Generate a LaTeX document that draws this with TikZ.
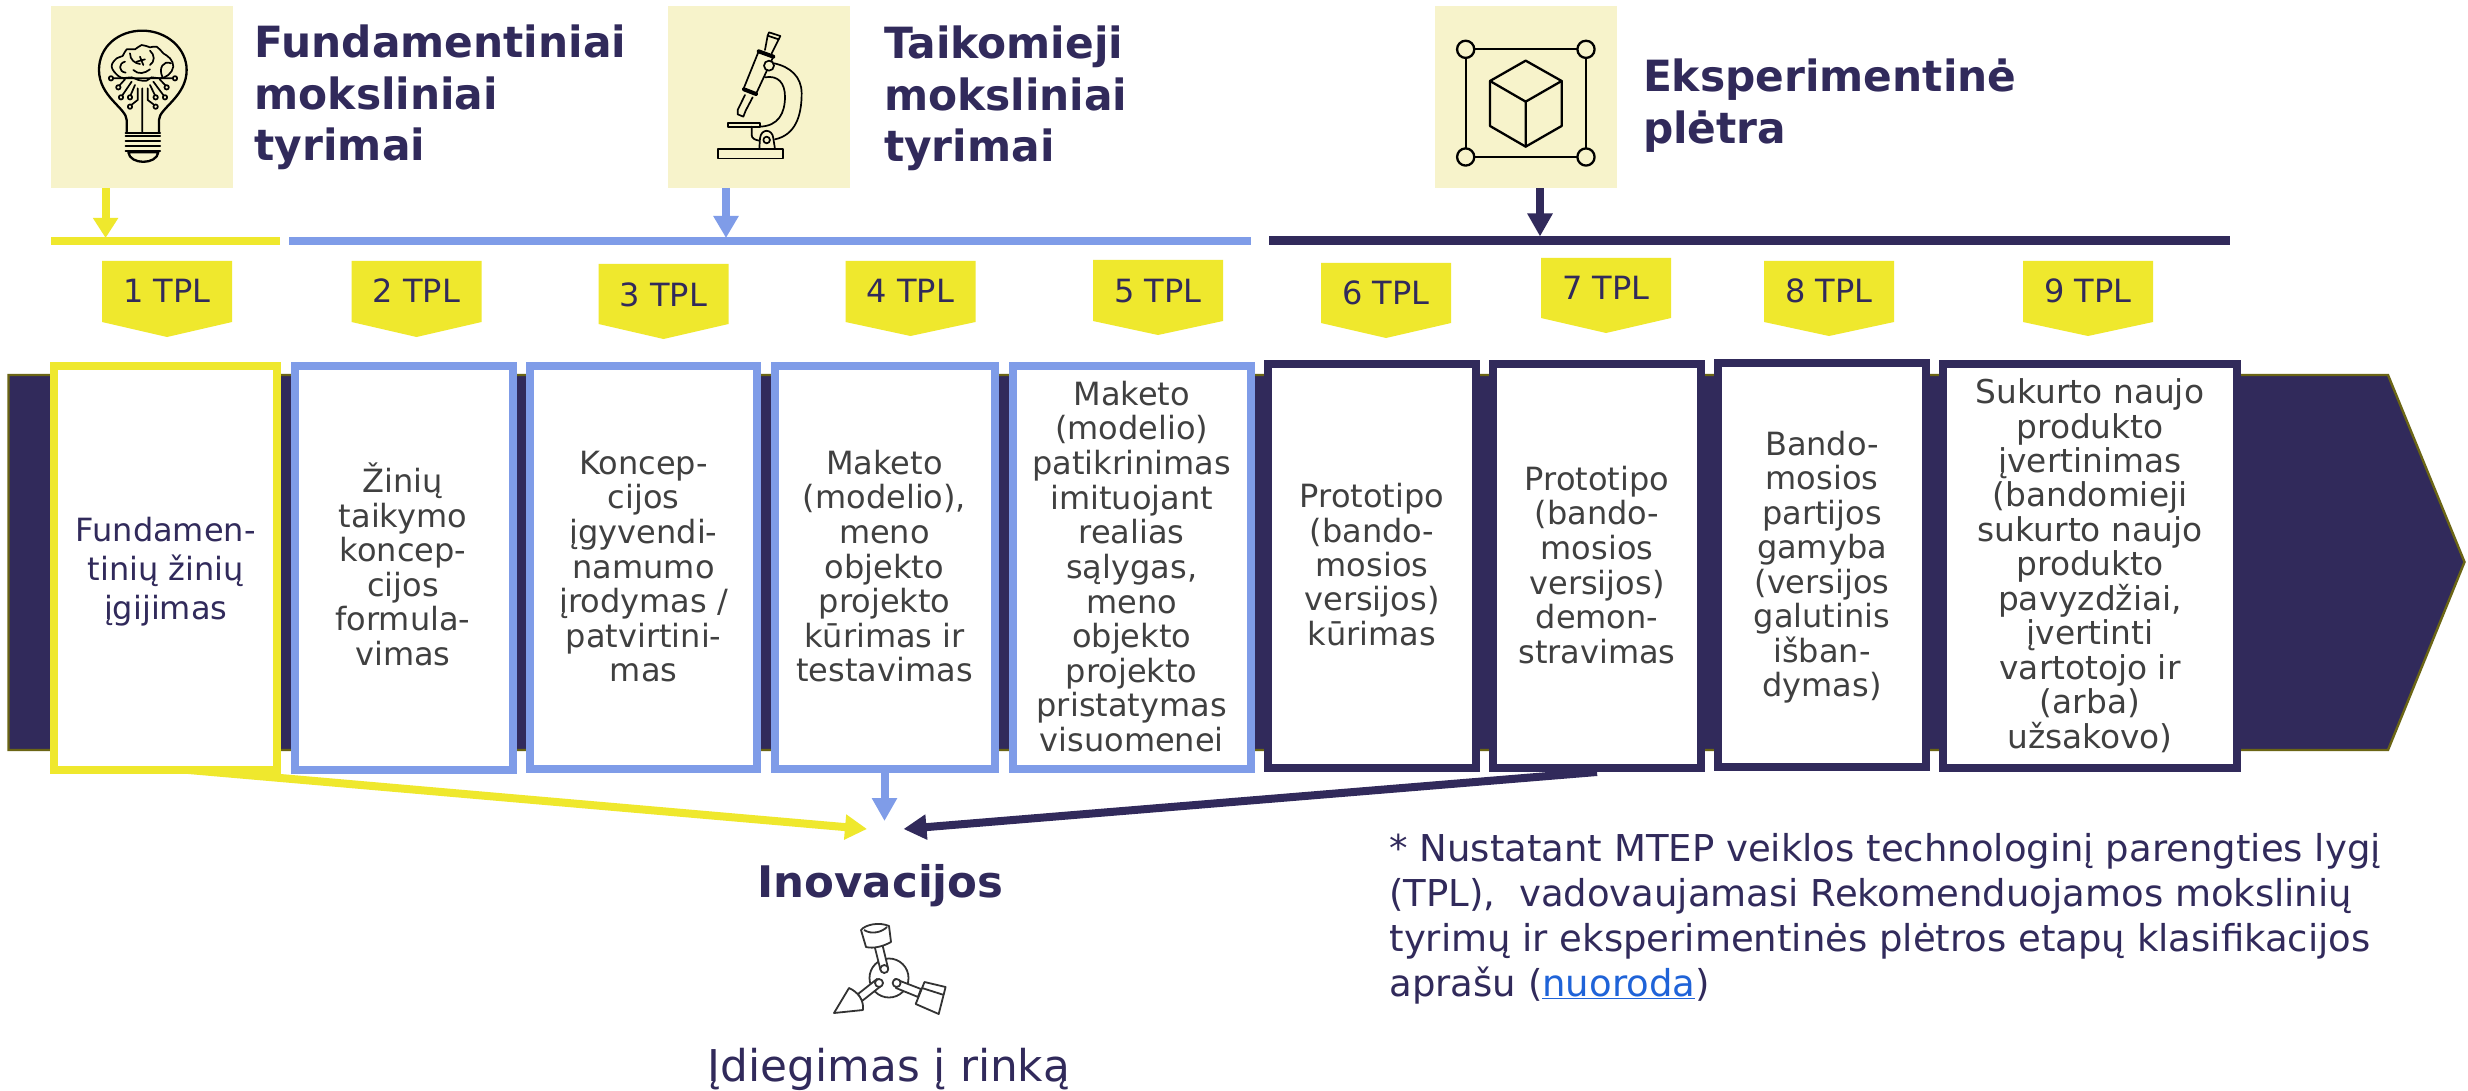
\documentclass[tikz,border=0pt]{standalone}
\usepackage{fontspec}
\setmainfont{DejaVu Sans}
\newfontfamily\headfont[FakeStretch=0.985]{DejaVu Sans Bold}
\usetikzlibrary{arrows.meta,backgrounds}
\definecolor{navy}{RGB}{49,42,91}
\definecolor{tagyellow}{RGB}{239,232,45}
\definecolor{midblue}{RGB}{127,156,232}
\definecolor{cream}{RGB}{247,243,203}
\definecolor{olive}{RGB}{107,101,21}
\definecolor{bodygrey}{RGB}{64,64,64}
\definecolor{linkblue}{RGB}{31,99,216}
\tikzset{
  mainbox/.style={rectangle,line width=8pt,fill=white,inner sep=0pt},
  iconbox/.style={rectangle,fill=cream,inner sep=0pt},
  barnode/.style={rectangle,inner sep=0pt,minimum height=8pt},
  textblock/.style={inner sep=0pt,outer sep=0pt},
  conn/.style={line width=8pt},
  ink/.style={draw=black,line width=2.3pt,line join=round,line cap=round},
  fineink/.style={draw=black,line width=1.7pt,line join=round,line cap=round},
  thinink/.style={draw=black!80,line width=1.8pt,line join=round},
}
% name, cx, first baseline, colour, pitch, font size, lines
\newcommand\blockC[7]{\node[textblock,anchor=north,align=center,text=#4,
  font={\fontsize{#6}{#5}\selectfont\lineskiplimit=-100pt}] (#1) at (#2,#3-60) {\rule{0pt}{60pt}#7};}
\newcommand\blockL[7]{\node[textblock,anchor=north west,align=left,text=#4,
  font={\fontsize{#6}{#5}\selectfont\lineskiplimit=-100pt}] (#1) at (#2,#3-60) {\rule{0pt}{60pt}#7};}
\newcommand\headL[5]{\node[textblock,anchor=north west,align=left,text=navy,
  font={\headfont\fontsize{43}{#4}\selectfont\lineskiplimit=-100pt}] (#1) at (#2,#3-60) {\rule{0pt}{60pt}#5};}
% name x1 x2 top shoulder tip label
\newcommand\tagshape[7]{
  \fill[tagyellow] (#2,#4) -- (#3,#4) -- (#3,#5) -- ({(#2+#3)/2},#6) -- (#2,#5) -- cycle;
  \node[textblock,anchor=base,text=navy,font=\fontsize{32}{36}\selectfont] (#1) at ({(#2+#3)/2},#4+42) {#7};}
\begin{document}
\begin{tikzpicture}[x=1pt,y=-1pt]
\useasboundingbox (0,0) rectangle (2468,1091);

% icon boxes
\node[iconbox,minimum width=182pt,minimum height=182pt] (icon1) at (142,97) {};
\node[iconbox,minimum width=182pt,minimum height=182pt] (icon2) at (759,97) {};
\node[iconbox,minimum width=182pt,minimum height=182pt] (icon3) at (1526,97) {};

% bars
\node[barnode,fill=tagyellow,minimum width=229pt] (bar1) at (165.5,241) {};
\node[barnode,fill=midblue,minimum width=962pt] (bar2) at (770,241) {};
\node[barnode,fill=navy,minimum width=961pt,minimum height=8.5pt] (bar3) at (1749.5,240.75) {};

% bar arrows
\coordinate (a1) at (105.6,238);
\coordinate (a2) at (726,238);
\coordinate (a3) at (1540,236.5);
\draw[conn,draw=tagyellow,-{Triangle[length=20pt,width=24pt]}] (icon1.south -| a1) -- (a1);
\draw[conn,draw=midblue,-{Triangle[length=22pt,width=24pt]}] (icon2.south -| a2) -- (a2);
\draw[conn,draw=navy,-{Triangle[length=23pt,width=24pt]}] (icon3.south -| a3) -- (a3);

% headings
\headL{h1}{254.6}{58}{51.5}{Fundamentiniai\\moksliniai\\tyrimai}
\headL{h2}{884}{59}{51.3}{Taikomieji\\moksliniai\\tyrimai}
\headL{h3}{1643}{91.7}{51.6}{Eksperimentinė\\plėtra}

% tags
\tagshape{t1}{102}{232}{261}{322}{337}{1 TPL}
\tagshape{t2}{351.5}{481.5}{261}{322}{337}{2 TPL}
\tagshape{t3}{598.5}{728.5}{264}{324}{339}{3 TPL}
\tagshape{t4}{845.5}{975.5}{261}{322}{336}{4 TPL}
\tagshape{t5}{1093}{1223}{260}{321}{335}{5 TPL}
\tagshape{t6}{1321}{1451}{263}{323}{338}{6 TPL}
\tagshape{t7}{1541}{1671}{258}{318}{333}{7 TPL}
\tagshape{t8}{1764}{1894}{261}{322}{336}{8 TPL}
\tagshape{t9}{2023}{2153}{261}{322}{336}{9 TPL}

% main boxes
\node[mainbox,draw=tagyellow,minimum width=223pt,minimum height=404pt] (b1) at (165.5,568) {};
\node[mainbox,draw=midblue,minimum width=218.5pt,minimum height=404pt] (b2) at (404,568) {};
\node[mainbox,draw=midblue,minimum width=227pt,minimum height=403pt] (b3) at (643.7,567.5) {};
\node[mainbox,draw=midblue,minimum width=220pt,minimum height=403pt] (b4) at (884.5,567.5) {};
\node[mainbox,draw=midblue,minimum width=238.5pt,minimum height=403pt] (b5) at (1131.8,567.5) {};
\node[mainbox,draw=navy,minimum width=207.5pt,minimum height=404pt] (b6) at (1372,566) {};
\node[mainbox,draw=navy,minimum width=208pt,minimum height=404pt] (b7) at (1597,566) {};
\node[mainbox,draw=navy,minimum width=208pt,minimum height=404pt] (b8) at (1822,565) {};
\node[mainbox,draw=navy,minimum width=294.5pt,minimum height=404pt] (b9) at (2090,566) {};

% background: body arrow and connectors beneath the boxes
\begin{pgfonlayer}{background}
  \fill[white] (0,0) rectangle (2468,1091);
  \filldraw[fill=navy,draw=olive,line width=2.4pt,line join=miter] (8.5,375) -- (2388,375) -- (2464.5,562) -- (2388,750) -- (8.5,750) -- cycle;
  \coordinate (tipL) at (867,829);
  \coordinate (tipM) at (884.5,821);
  \coordinate (tipR) at (903.5,829);
  \draw[conn,draw=tagyellow,-{Triangle[length=22pt,width=24pt]}] ([yshift=6pt]b1.south) -- (tipL);
  \draw[conn,draw=midblue,-{Triangle[length=23pt,width=24pt]}] (b4.south) -- (tipM);
  \draw[conn,draw=navy,-{Triangle[length=23pt,width=24pt]}] (b7.south) -- (tipR);
\end{pgfonlayer}

% box texts
\blockC{x1}{165.7}{541.7}{navy}{38.8}{32}{Fundamen-\\tinių žinių\\įgijimas}
\blockC{x2}{403}{492.7}{bodygrey}{34.5}{32}{Žinių\\taikymo\\koncep-\\cijos\\formula-\\vimas}
\blockC{x3}{643.6}{474.3}{bodygrey}{34.6}{32}{Koncep-\\cijos\\įgyvendi-\\namumo\\įrodymas /\\patvirtini-\\mas}
\blockC{x4}{884.5}{474.3}{bodygrey}{34.6}{32}{Maketo\\(modelio),\\meno\\objekto\\projekto\\kūrimas ir\\testavimas}
\blockC{x5}{1131.7}{405.3}{bodygrey}{34.63}{32}{Maketo\\(modelio)\\patikrinimas\\imituojant\\realias\\sąlygas,\\meno\\objekto\\projekto\\pristatymas\\visuomenei}
\blockC{x6}{1372}{507.7}{bodygrey}{34.4}{32}{Prototipo\\(bando-\\mosios\\versijos)\\kūrimas}
\blockC{x7}{1597}{490.3}{bodygrey}{34.6}{32}{Prototipo\\(bando-\\mosios\\versijos)\\demon-\\stravimas}
\blockC{x8}{1822}{455}{bodygrey}{34.5}{32}{Bando-\\mosios\\partijos\\gamyba\\(versijos\\galutinis\\išban-\\dymas)}
\blockC{x9}{2090}{403.7}{bodygrey}{34.43}{32.8}{Sukurto naujo\\produkto\\įvertinimas\\(bandomieji\\sukurto naujo\\produkto\\pavyzdžiai,\\įvertinti\\vartotojo ir\\(arba)\\užsakovo)}

% lower texts
\node[textblock,anchor=base,text=navy,font=\bfseries\fontsize{43.5}{50}\selectfont] (inov) at (880.5,897) {Inovacijos};
\node[textblock,anchor=base,text=navy,font=\fontsize{43.8}{50}\selectfont] (rinka) at (889,1081) {Įdiegimas į rinką};
\blockL{foot}{1389.5}{861}{navy}{45}{37}{* Nustatant MTEP veiklos technologinį parengties lygį\\(TPL),\ \ vadovaujamasi Rekomenduojamos mokslinių\\tyrimų ir eksperimentinės plėtros etapų klasifikacijos\\aprašu ({\color{linkblue}\underline{nuoroda}})}

% bulb icon
\begin{scope}[shift={(85,20)},x=0.3333pt,y=-0.3333pt]
  \draw[ink] (125,335) -- (125,300) .. controls (125,265) and (42,230) .. (42,150) .. controls (42,80) and (100,32) .. (172,32) .. controls (245,32) and (305,85) .. (305,150) .. controls (305,230) and (222,265) .. (222,300) -- (222,335);
  \draw[ink] (122,340) -- (225,340) (122,348) -- (225,348) (122,362) -- (225,362) (122,378) -- (225,378) (122,393) -- (225,393);
  \draw[ink] (130,397) .. controls (135,435) and (215,435) .. (220,397) -- cycle;
  \draw[fineink] (172,205) -- (172,335) (158,205) -- (158,240) -- (135,258) (188,205) -- (188,240) -- (212,258);
  \draw[fineink] (85,175) -- (262,175) (120,178) -- (100,200) (224,178) -- (245,200) (140,185) -- (108,232) (205,185) -- (240,232) (150,195) -- (135,230) (195,195) -- (212,230);
  \foreach \cx/\cy in {78/175,270/175,100/202,245/202,108/232,240/232,135/232,212/232,135/260,212/260}
    \filldraw[fineink,fill=cream] (\cx,\cy) circle (2.2pt);
  \draw[fineink] plot[smooth cycle,tension=0.7] coordinates {(100,168)(80,140)(95,115)(113,108)(125,88)(150,88)(170,75)(195,82)(215,80)(235,100)(255,115)(265,140)(250,165)(225,175)(200,172)(185,182)(160,180)(140,172)(118,174)};
  \draw[fineink] (120,125) .. controls (100,130) and (100,155) .. (122,158);
  \draw[fineink] (135,100) .. controls (135,120) and (150,130) .. (165,132);
  \draw[fineink] (165,110) -- (175,135) (155,125) -- (180,118);
  \draw[fineink] (195,92) .. controls (210,105) and (210,125) .. (195,135);
  \draw[fineink] (258,130) .. controls (235,120) and (220,145) .. (232,170);
  \draw[fineink] (145,150) .. controls (160,165) and (180,160) .. (195,148);
\end{scope}

% microscope icon
\begin{scope}[shift={(700,20)},x=0.3333pt,y=-0.3333pt]
  \draw[fineink] (55,387) rectangle (248,416);
  \draw[fineink] (85,309) rectangle (180,320);
  \draw[fineink] (207,37) -- (241,48) -- (236,58) -- (203,47) -- cycle;
  \draw[fineink] (203,47) -- (195,90) (236,58) -- (215,100);
  \draw[ink,line width=4pt] (176,94) -- (220,110);
  \draw[fineink] (176,94) -- (130,208) (220,110) -- (168,222);
  \draw[ink,line width=4pt] (132,208) -- (168,222);
  \draw[fineink] (135,225) -- (113,270) -- (113,283) -- (130,290) -- (137,272) -- (158,232);
  \draw[fineink] (222,130) .. controls (270,140) and (305,170) .. (305,220) .. controls (305,290) and (285,345) .. (225,358);
  \draw[fineink] (195,172) .. controls (235,165) and (255,190) .. (255,230) .. controls (255,280) and (235,318) .. (180,320);
  \filldraw[fineink,fill=cream] (207,137) circle (5pt);
  \draw[fineink] (178,387) -- (180,355) .. controls (183,325) and (217,325) .. (220,355) -- (225,387);
  \draw[fineink] (200,360) circle (3.3pt);
  \draw[fineink] (155,320) -- (155,345) .. controls (155,355) and (165,360) .. (178,362);
\end{scope}

% cube icon
\begin{scope}[shift={(1435,20)},x=0.3333pt,y=-0.3333pt]
  \draw[ink] (92,88) rectangle (453,411);
  \foreach \cx/\cy in {92/88,453/88,92/411,453/411}
    \filldraw[ink,fill=cream] (\cx,\cy) circle (8.6pt);
  \draw[ink] (272,122) -- (380,183) -- (380,318) -- (272,380) -- (165,318) -- (165,183) -- cycle;
  \draw[ink] (165,183) -- (272,245) -- (380,183) (272,245) -- (272,380);
\end{scope}

% piston icon
\draw[thinink] (889,978) circle (19.5pt);
\draw[thinink,fill=white] (874,944) -- (880.5,970) -- (888,968) -- (882,943) -- cycle;
\draw[thinink,fill=white] (861,930) -- (866,947) .. controls (874,949) and (884,946) .. (891,942) -- (889,926) .. controls (880,922) and (866,924) .. (861,930) -- cycle;
\draw[thinink] (864,930) .. controls (872,935) and (882,932) .. (887,927);
\draw[thinink,fill=white] (884.3,969) circle (4pt);
\draw[thinink,fill=white] (858,994) -- (877,979) -- (881,986) -- (862,1001) -- cycle;
\draw[thinink,fill=white] (834,1013) -- (849,988) .. controls (858,992) and (864,1000) .. (863,1010) -- cycle;
\draw[thinink,fill=white] (879,983) circle (4pt);
\draw[thinink,fill=white] (895,979) -- (921,989) -- (918,997) -- (896,988) -- cycle;
\draw[thinink,fill=white] (924.5,982) -- (945.6,987) -- (938.7,1014) -- (915.7,1004) -- cycle;
\draw[thinink] (922,988) -- (944,995);
\draw[thinink,fill=white] (896.6,983) circle (4pt);
\end{tikzpicture}
\end{document}
